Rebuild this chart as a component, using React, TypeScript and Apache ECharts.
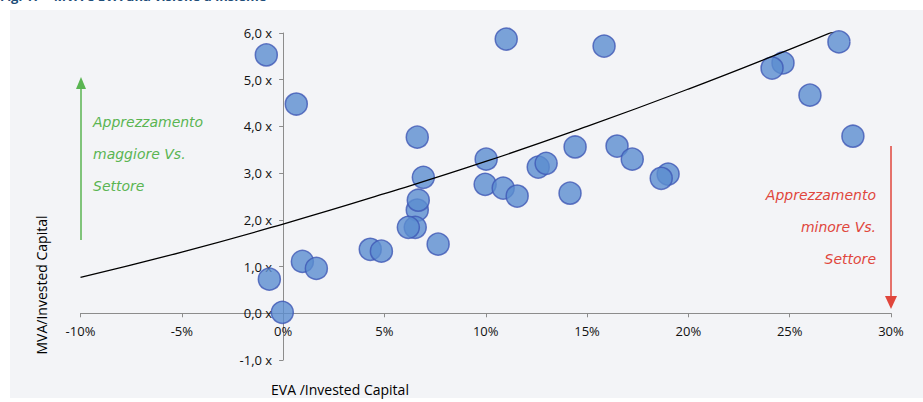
import React, { useEffect, useRef } from "react";
import * as echarts from "echarts";

// EVA / Invested Capital (%) and MVA / Invested Capital (x)
const evaX = [-0.83, 0.65, 11.01, 15.84, 27.43, 24.67, 24.13, 26.0, 28.12, 6.62, 10.02, 14.41, 16.48, 17.23, 12.59, 12.98, 6.92, 19.0, 18.66, 9.97, 10.86, 11.55, 14.16, 6.62, 6.67, 6.52, 6.18, 7.65, 4.3, 4.85, 0.95, 1.64, -0.68, -0.04];
const mvaY = [5.53, 4.48, 5.87, 5.72, 5.81, 5.36, 5.25, 4.67, 3.79, 3.77, 3.30, 3.56, 3.58, 3.30, 3.13, 3.21, 2.91, 2.98, 2.89, 2.76, 2.68, 2.51, 2.57, 2.21, 2.42, 1.84, 1.84, 1.48, 1.37, 1.33, 1.11, 0.96, 0.73, 0.02];

// trend line
const trendX = [-10, -5, 0, 5, 10, 15, 20, 25, 27.6];
const trendY = [0.77, 1.31, 1.91, 2.56, 3.25, 4.0, 4.8, 5.65, 6.11];

const xTicks = { min: -10, max: 30, interval: 5 };
const yTicks = { min: -1, max: 6, interval: 1 };

const title = "Fig. 17 – MVA e EVA una visione d'insieme";
const xName = "EVA /Invested Capital";
const yName = "MVA/Invested Capital";
const upText = ["Apprezzamento", "maggiore Vs.", "Settore"];
const downText = ["Apprezzamento", "minore Vs.", "Settore"];

export default function App() {
  const ref = useRef<HTMLDivElement>(null);
  useEffect(() => {
    document.body.style.margin = "0";
    const chart = echarts.init(ref.current!, null, { renderer: "svg" });
    const font = "'Open Sans', sans-serif";
    const hand = "'DejaVu Sans', sans-serif";
    const green = "#5ab552";
    const red = "#e0463c";
    const gridLeft = 80.5, gridRight = 32, gridTop = 33, gridBottom = 42;
    const W = 923, H = 402;
    const plotW = W - gridLeft - gridRight;
    const plotH = H - gridTop - gridBottom;
    // move each axis onto the other axis's zero
    const yAxisOffset = -((0 - xTicks.min) / (xTicks.max - xTicks.min)) * plotW;
    const xAxisOffset = -((0 - yTicks.min) / (yTicks.max - yTicks.min)) * plotH;
    const option: any = {
      animation: false,
      backgroundColor: "#ffffff",
      grid: { left: gridLeft, right: gridRight, top: gridTop, bottom: gridBottom, containLabel: false },
      xAxis: {
        type: "value",
        min: xTicks.min,
        max: xTicks.max,
        interval: xTicks.interval,
        offset: xAxisOffset,
        axisLine: { onZero: false, lineStyle: { color: "#8c8c8c", width: 1 } },
        axisTick: { show: true, length: 4, lineStyle: { color: "#8c8c8c" } },
        splitLine: { show: false },
        axisLabel: {
          margin: 11,
          color: "#111",
          fontFamily: font,
          fontSize: 13,
          formatter: (v: number) => `${v}%`,
        },
      },
      yAxis: {
        type: "value",
        min: yTicks.min,
        max: yTicks.max,
        interval: yTicks.interval,
        offset: yAxisOffset,
        axisLine: { onZero: false, lineStyle: { color: "#8c8c8c", width: 1 } },
        axisTick: { show: true, length: 4, lineStyle: { color: "#8c8c8c" } },
        splitLine: { show: false },
        axisLabel: {
          margin: 11,
          color: "#111",
          fontFamily: font,
          fontSize: 13,
          formatter: (v: number) => `${v.toFixed(1).replace(".", ",")} x`,
        },
      },
      series: [
        {
          type: "scatter",
          data: evaX.map((x, i) => [x, mvaY[i]]),
          symbolSize: 22,
          itemStyle: { color: "#5b8dcf", borderColor: "#3f58b5", borderWidth: 1.5 },
          z: 2,
        },
        {
          type: "line",
          data: trendX.map((x, i) => [x, trendY[i]]),
          smooth: true,
          showSymbol: false,
          symbol: "none",
          lineStyle: { color: "#000", width: 1.3 },
          z: 3,
        },
      ],
      graphic: [
        { type: "rect", shape: { x: 10, y: 10, width: 913, height: 388 }, style: { fill: "#f3f4f7" }, z: -10 },
        {
          type: "text", left: 0, top: -11,
          style: { text: title, fill: "#1f4e79", font: `bold 13px ${font}` }, z: 10,
        },
        {
          type: "text", x: 41, y: 285, rotation: Math.PI / 2,
          style: { text: yName, fill: "#000", font: `14px ${font}`, align: "center", verticalAlign: "middle" },
        },
        {
          type: "text", x: 340, y: 389,
          style: { text: xName, fill: "#000", font: `14px ${font}`, align: "center", verticalAlign: "middle" },
        },
        { type: "line", shape: { x1: 81, y1: 240, x2: 81, y2: 86 }, style: { stroke: green, lineWidth: 1.5 } },
        { type: "polygon", shape: { points: [[81, 77], [76, 89], [86, 89]] }, style: { fill: green } },
        { type: "line", shape: { x1: 891, y1: 146, x2: 891, y2: 298 }, style: { stroke: red, lineWidth: 1.5 } },
        { type: "polygon", shape: { points: [[891, 309], [885, 296], [897, 296]] }, style: { fill: red } },
        ...upText.map((t, i) => ({
          type: "text", x: 93, y: 122 + i * 32,
          style: { text: t, fill: green, font: `italic 200 14px ${hand}`, align: "left", verticalAlign: "middle" },
        })),
        ...downText.map((t, i) => ({
          type: "text", x: 876, y: 195 + i * 32,
          style: { text: t, fill: red, font: `italic 200 14px ${hand}`, align: "right", verticalAlign: "middle" },
        })),
      ],
    };
    chart.setOption(option);
    return () => chart.dispose();
  }, []);
  return <div ref={ref} style={{ position: "fixed", left: 0, top: 0, width: 923, height: 402 }} />;
}
